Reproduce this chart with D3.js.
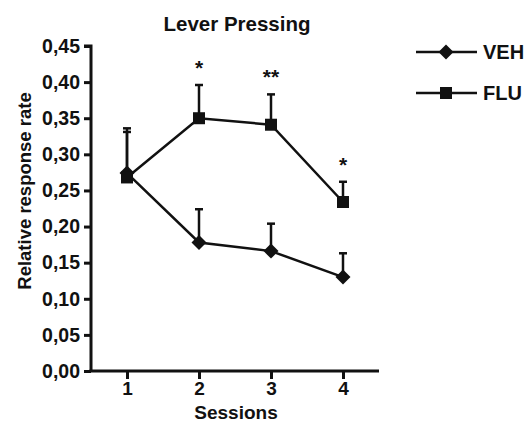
<!DOCTYPE html>
<html><head><meta charset="utf-8">
<script src="https://cdn.jsdelivr.net/npm/d3@7"></script>
<style>body{margin:0;background:#fff}svg{display:block}text{font-family:"Liberation Sans",Arial,sans-serif;font-weight:bold;fill:#111}</style>
</head><body>
<script>
const sessions = [1, 2, 3, 4];
const vehMean = [0.274, 0.178, 0.166, 0.130];
const vehErr  = [0.062, 0.046, 0.038, 0.033];
const fluMean = [0.268, 0.350, 0.341, 0.234];
const fluErr  = [0.063, 0.046, 0.042, 0.028];
const sigLabels = ["", "*", "**", "*"];
const yTicks = [0, 0.05, 0.10, 0.15, 0.20, 0.25, 0.30, 0.35, 0.40, 0.45];
const seriesNames = ["VEH", "FLU"];

const W = 525, H = 422;
const svg = d3.select("body").append("svg").attr("width", W).attr("height", H);
const x = d3.scaleLinear().domain([0.5, 4.5]).range([91, 379]);
const y = d3.scaleLinear().domain([0, 0.45]).range([371, 46]);
const col = "#111";

// axes
const yAxis = svg.append("g").attr("transform", "translate(91,0)")
  .call(d3.axisLeft(y).tickValues(yTicks).tickSize(7).tickPadding(4)
    .tickFormat(d => d3.format(".2f")(d).replace(".", ",")));
const xAxis = svg.append("g").attr("transform", "translate(0,371)")
  .call(d3.axisBottom(x).tickValues(sessions).tickSize(8).tickPadding(3).tickFormat(d3.format("d")));
[yAxis, xAxis].forEach(g => {
  g.select(".domain").attr("stroke", col).attr("stroke-width", 3);
  g.selectAll(".tick line").attr("stroke", col).attr("stroke-width", 3);
  g.selectAll(".tick text").style("font-size", "19.5px").attr("fill", col);
});
xAxis.selectAll(".tick text").style("font-size", "19px");
yAxis.select(".domain").attr("d", `M-7,${y(0.45)}H0V${y(0)}`);
xAxis.select(".domain").attr("d", `M${x(0.5)-1.5},0H${x(4.5)}`);

// titles
svg.append("text").attr("x", 237).attr("y", 31).attr("text-anchor", "middle").style("font-size", "20.5px").text("Lever Pressing");
svg.append("text").attr("x", 236).attr("y", 418.5).attr("text-anchor", "middle").style("font-size", "19px").text("Sessions");
svg.append("text").attr("transform", "translate(31,191) rotate(-90)").attr("text-anchor", "middle").style("font-size", "18.5px").text("Relative response rate");

const series = [
  {name: seriesNames[0], mean: vehMean, err: vehErr, shape: "diamond"},
  {name: seriesNames[1], mean: fluMean, err: fluErr, shape: "square"}
];
function marker(g, shape, cx, cy) {
  if (shape === "diamond") g.append("path").attr("d", `M${cx},${cy-7.5}L${cx+7.5},${cy}L${cx},${cy+7.5}L${cx-7.5},${cy}Z`).attr("fill", col);
  else g.append("rect").attr("x", cx-6).attr("y", cy-6).attr("width", 12).attr("height", 12).attr("fill", col);
}
const line = d3.line().x((d, i) => x(sessions[i])).y(d => y(d));
series.forEach(s => {
  const g = svg.append("g");
  s.mean.forEach((m, i) => {
    const cx = x(sessions[i]);
    g.append("line").attr("x1", cx).attr("x2", cx).attr("y1", y(m)).attr("y2", y(m + s.err[i])).attr("stroke", col).attr("stroke-width", 2.5);
    g.append("line").attr("x1", cx-4).attr("x2", cx+4).attr("y1", y(m + s.err[i])).attr("y2", y(m + s.err[i])).attr("stroke", col).attr("stroke-width", 2.5);
  });
  g.append("path").datum(s.mean).attr("d", line).attr("fill", "none").attr("stroke", col).attr("stroke-width", 2.5);
  s.mean.forEach((m, i) => marker(g, s.shape, x(sessions[i]), y(m)));
});

// significance
sigLabels.forEach((t, i) => {
  if (!t) return;
  const top = fluMean[i] + fluErr[i];
  svg.append("text").attr("x", x(sessions[i])).attr("y", y(top) - 10).attr("text-anchor", "middle").style("font-size", "21px").text(t);
});

// legend
series.forEach((s, i) => {
  const ly = 52 + i * 41;
  const g = svg.append("g");
  g.append("line").attr("x1", 416).attr("x2", 477).attr("y1", ly).attr("y2", ly).attr("stroke", col).attr("stroke-width", 2.5);
  marker(g, s.shape, 446, ly);
  g.append("text").attr("x", 483).attr("y", ly + 7).style("font-size", "20px").text(s.name);
});
</script>
</body></html>
